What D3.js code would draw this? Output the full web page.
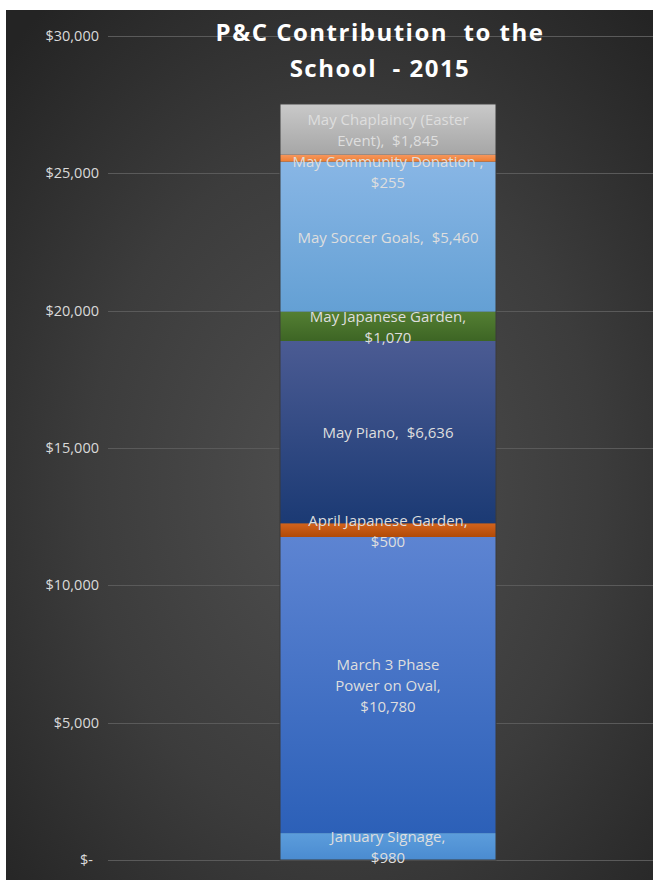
<!DOCTYPE html>
<html><head><meta charset="utf-8">
<script src="https://cdn.jsdelivr.net/npm/d3@7"></script>
<style>
html,body{margin:0;padding:0;background:#fff;}
svg{display:block;}
text{font-family:"Open Sans",sans-serif;white-space:pre;}
</style></head>
<body>
<svg id="chart" width="653" height="880"></svg>
<script>
// Data
const categories = ["January Signage", "March 3 Phase Power on Oval", "April Japanese Garden", "May Piano", "May Japanese Garden", "May Soccer Goals", "May Community Donation", "May Chaplaincy (Easter Event)"];
const values = [980, 10780, 500, 6636, 1070, 5460, 255, 1845];
const labelLines = [
  ["January Signage,", "$980"],
  ["March 3 Phase", "Power on Oval,", "$10,780"],
  ["April Japanese Garden,", "$500"],
  ["May Piano,  $6,636"],
  ["May Japanese Garden,", "$1,070"],
  ["May Soccer Goals,  $5,460"],
  ["May Community Donation ,", "$255"],
  ["May Chaplaincy (Easter", "Event),  $1,845"]
];
const tickValues = [0, 5000, 10000, 15000, 20000, 25000, 30000];
const tickLabels = ["$-", "$5,000", "$10,000", "$15,000", "$20,000", "$25,000", "$30,000"];
const titleLines = ["P&C Contribution  to the", "School  - 2015"];
const colorTop = ["#5c9ddc", "#5d84d2", "#d2631c", "#4b5b93", "#547f33", "#88b6e5", "#f6975e", "#c9c9c9"];
const colorBot = ["#4a8bd0", "#2c60b8", "#b14a08", "#1b3a74", "#3d6524", "#64a0d4", "#ee7e33", "#a6a6a6"];

const svg = d3.select("#chart");
const W = 653, H = 880;
const defs = svg.append("defs");

// Background radial gradient
const bg = defs.append("radialGradient").attr("id", "bg")
  .attr("cx", 0.52).attr("cy", 0.55).attr("r", 0.72);
bg.append("stop").attr("offset", "0%").attr("stop-color", "#505050");
bg.append("stop").attr("offset", "55%").attr("stop-color", "#3c3c3c");
bg.append("stop").attr("offset", "100%").attr("stop-color", "#242424");

svg.append("rect").attr("x", 0).attr("y", 0).attr("width", W).attr("height", H).attr("fill", "#ffffff");
svg.append("rect").attr("x", 6).attr("y", 10).attr("width", W - 6).attr("height", H - 10).attr("fill", "url(#bg)");

// Scales
const y = d3.scaleLinear().domain([0, 30000]).range([860, 36]);
const x = d3.scaleBand().domain(["2015"]).range([280, 496]).padding(0);

// Gridlines
svg.append("g").selectAll("line").data(tickValues).join("line")
  .attr("x1", 108).attr("x2", W)
  .attr("y1", d => Math.round(y(d)) + 0.5).attr("y2", d => Math.round(y(d)) + 0.5)
  .attr("stroke", "#5a5a5a").attr("stroke-width", 1);

// Axis
const axis = d3.axisLeft(y).tickValues(tickValues)
  .tickFormat((d, i) => tickLabels[i]).tickSize(0).tickPadding(0);
const ag = svg.append("g").attr("transform", "translate(99,0)").call(axis);
ag.select(".domain").remove();
ag.selectAll("text").attr("fill", "#dadada").style("font-size", "14.5px")
  .style("font-family", "'Open Sans',sans-serif")
  .attr("dx", (d) => d === 0 ? -6 : 0);

// Stack
const row = {};
categories.forEach((c, i) => row[c] = values[i]);
const stack = d3.stack().keys(categories)([row]);

// Gradients per segment
categories.forEach((c, i) => {
  const g = defs.append("linearGradient").attr("id", "g" + i)
    .attr("x1", 0).attr("y1", 0).attr("x2", 0).attr("y2", 1);
  g.append("stop").attr("offset", "0%").attr("stop-color", colorTop[i]);
  g.append("stop").attr("offset", "100%").attr("stop-color", colorBot[i]);
});

const bars = svg.append("g");
stack.forEach((s, i) => {
  const d = s[0];
  bars.append("rect")
    .attr("x", x("2015"))
    .attr("width", x.bandwidth())
    .attr("y", y(d[1]))
    .attr("height", y(d[0]) - y(d[1]))
    .attr("fill", `url(#g${i})`);
});
const total = d3.sum(values);
bars.append("rect").attr("x", x("2015")).attr("width", x.bandwidth())
  .attr("y", y(total)).attr("height", y(0) - y(total))
  .attr("fill", "none").attr("stroke", "#3a3a3a").attr("stroke-width", 1);

// Labels with simple top-down collision avoidance
const lh = 21;
const blocks = stack.map((s, i) => {
  const d = s[0];
  const cy = (y(d[0]) + y(d[1])) / 2;
  const h = labelLines[i].length * lh;
  return { i, top: cy - h / 2, h };
}).sort((a, b) => a.top - b.top);
for (let k = 1; k < blocks.length; k++) {
  const prev = blocks[k - 1], cur = blocks[k];
  if (cur.top < prev.top + prev.h) cur.top = prev.top + prev.h;
}
const lg = svg.append("g");
blocks.forEach(b => {
  const lines = labelLines[b.i];
  const cx = x("2015") + x.bandwidth() / 2;
  const t = lg.append("text")
    .attr("text-anchor", "middle")
    .attr("fill", "#dedede")
    .style("font-size", "15px");
  lines.forEach((ln, j) => {
    t.append("tspan").attr("x", cx)
      .attr("y", b.top + j * lh + lh / 2 + 6)
      .text(ln);
  });
});

// Title
const tt = svg.append("text").attr("text-anchor", "middle")
  .attr("fill", "#ffffff").style("font-size", "24px").style("font-weight", "bold")
  .style("letter-spacing", "1.5px");
titleLines.forEach((ln, j) => {
  tt.append("tspan").attr("x", 380).attr("y", 41 + j * 36).text(ln);
});
</script>
</body></html>
